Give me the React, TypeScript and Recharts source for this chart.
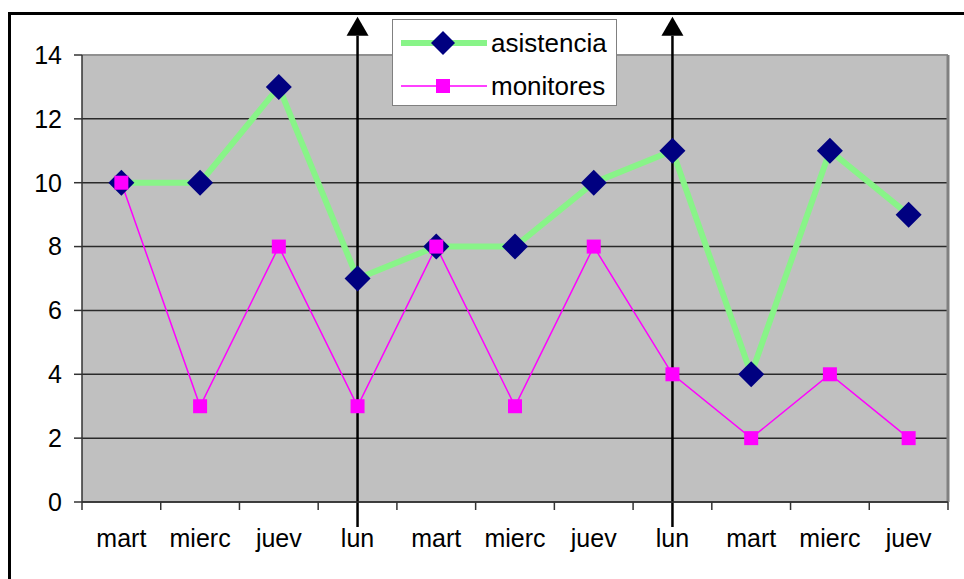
import React from 'react';
import { LineChart, Line, XAxis, YAxis, CartesianGrid, ReferenceLine, Legend } from 'recharts';

const days = ['mart', 'mierc', 'juev', 'lun', 'mart', 'mierc', 'juev', 'lun', 'mart', 'mierc', 'juev'];
const asistencia = [10, 10, 13, 7, 8, 8, 10, 11, 4, 11, 9];
const monitores = [10, 3, 8, 3, 8, 3, 8, 4, 2, 4, 2];
const yTicks = [0, 2, 4, 6, 8, 10, 12, 14];
// the two "lun" days marked with an arrow
const arrowDays = [3, 7];

const data = days.map((d, i) => ({ x: i + 0.5, day: d, asistencia: asistencia[i], monitores: monitores[i] }));
const labelTicks = days.map((_, i) => i + 0.5);
const boundaryTicks = days.map((_, i) => i).concat(days.length);

const FONT = '"Liberation Sans", Arial, sans-serif';
const GREEN = '#88f488';
const NAVY = '#000080';
const PINK = '#ff00ff';

const Diamond = (props: any) => {
  const { cx, cy, r = 13 } = props;
  if (cx == null || cy == null) return <g />;
  return <polygon points={`${cx},${cy - r} ${cx + r},${cy} ${cx},${cy + r} ${cx - r},${cy}`} fill={NAVY} />;
};

const Square = (props: any) => {
  const { cx, cy, s = 14 } = props;
  if (cx == null || cy == null) return <g />;
  return <rect x={cx - s / 2} y={cy - s / 2} width={s} height={s} fill={PINK} />;
};

const Arrow = (props: any) => {
  const { x1, y1, x2, y2 } = props;
  const head = 19;
  return (
    <g>
      <line x1={x1} y1={y1} x2={x2} y2={y2 + head} stroke="#000" strokeWidth={2.5} />
      <polygon points={`${x2},${y2} ${x2 + 11},${y2 + head} ${x2 - 11},${y2 + head}`} fill="#000" />
    </g>
  );
};

const LegendBox = () => (
  <div style={{ width: 225, height: 87, boxSizing: 'border-box', border: '1.5px solid #808080', background: '#fff' }}>
    <svg width={222} height={84} style={{ display: 'block' }}>
      <line x1={8} y1={23} x2={94} y2={23} stroke={GREEN} strokeWidth={6} />
      <Diamond cx={50} cy={23} r={12} />
      <text x={98} y={23} dy="0.35em" fontFamily={FONT} fontSize={26} fill="#000">asistencia</text>
      <line x1={8} y1={66} x2={94} y2={66} stroke={PINK} strokeWidth={1.5} />
      <Square cx={50} cy={66} s={14} />
      <text x={98} y={66} dy="0.35em" fontFamily={FONT} fontSize={26} fill="#000">monitores</text>
    </svg>
  </div>
);

export default function App() {
  return (
    <div style={{ position: 'absolute', left: 0, top: 0, width: 964, height: 579, overflow: 'hidden', background: '#fff' }}>
      <div style={{ position: 'absolute', left: 8, top: 12, width: 970, height: 600, border: '3px solid #000', boxSizing: 'border-box' }} />
      <LineChart width={964} height={579} data={data} margin={{ top: 55, right: 16, bottom: 0, left: 0 }} style={{ position: 'absolute', left: 0, top: 0 }}>
        <CartesianGrid xAxisId="b" vertical={false} fill="#c0c0c0" stroke="#2a2a2a" strokeWidth={1.5} horizontalValues={yTicks} />
        <XAxis
          xAxisId="a"
          type="number"
          dataKey="x"
          domain={[0, days.length]}
          ticks={boundaryTicks}
          height={8}
          tickSize={8}
          stroke="#333"
          strokeWidth={1.5}
          tick={() => <g />}
        />
        <XAxis
          xAxisId="b"
          type="number"
          dataKey="x"
          domain={[0, days.length]}
          ticks={labelTicks}
          height={69}
          tickSize={0}
          tickMargin={19}
          axisLine={false}
          tickLine={false}
          tickFormatter={(v: number) => days[Math.floor(v)]}
          tick={{ fill: '#000', fontSize: 25, fontFamily: FONT }}
          interval={0}
        />
        <YAxis
          type="number"
          domain={[0, 14]}
          ticks={yTicks}
          width={82}
          tickSize={8}
          tickMargin={12}
          stroke="#333"
          strokeWidth={1.5}
          tick={{ fill: '#000', fontSize: 25, fontFamily: FONT }}
          interval={0}
        />
        <ReferenceLine xAxisId="b" y={14} stroke="#909090" strokeWidth={2} />
        <ReferenceLine xAxisId="a" x={days.length} stroke="#808080" strokeWidth={3} />
        <Line
          xAxisId="b"
          type="linear"
          dataKey="asistencia"
          stroke={GREEN}
          strokeWidth={6}
          dot={(p: any) => <Diamond key={`d${p.index}`} cx={p.cx} cy={p.cy} r={13} />}
          activeDot={false}
          isAnimationActive={false}
        />
        <Line
          xAxisId="b"
          type="linear"
          dataKey="monitores"
          stroke={PINK}
          strokeWidth={1.5}
          dot={(p: any) => <Square key={`s${p.index}`} cx={p.cx} cy={p.cy} s={14} />}
          activeDot={false}
          isAnimationActive={false}
        />
        {arrowDays.map((d) => (
          <ReferenceLine
            key={d}
            xAxisId="b"
            ifOverflow="visible"
            segment={[{ x: d + 0.5, y: -0.78 }, { x: d + 0.5, y: 15.2 }]}
            shape={Arrow}
          />
        ))}
        <Legend
          layout="horizontal"
          verticalAlign="middle"
          align="center"
          wrapperStyle={{ left: 392, top: 19, width: 225, height: 87 }}
          content={() => <LegendBox />}
        />
      </LineChart>
    </div>
  );
}
